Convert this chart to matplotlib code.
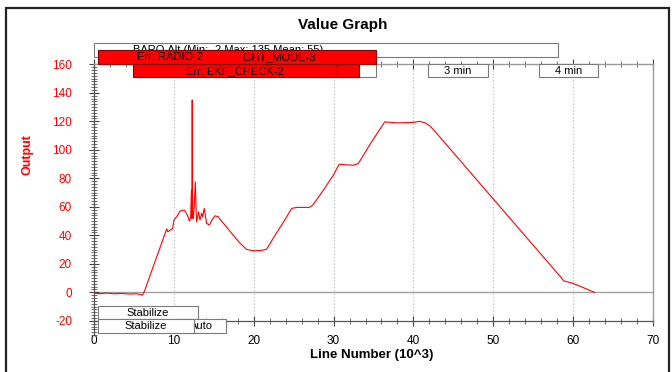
import matplotlib
matplotlib.use("Agg")
import matplotlib.pyplot as plt
from matplotlib.patches import Rectangle
from matplotlib.ticker import MultipleLocator, FixedLocator

plt.rcParams["font.family"] = ["Liberation Sans", "DejaVu Sans"]
plt.rcParams["axes.unicode_minus"] = False

# BARO altitude against log line number (thousands)
line_k = [0, 0.8, 1.5, 2.5, 3.5, 4.5, 5.3, 5.8, 6.05, 6.3,
          8.98, 9.1, 9.25, 9.68, 9.85, 10.0, 10.4, 10.77, 11.3, 11.7,
          11.95, 12.1, 12.2, 12.25, 12.3, 12.35, 12.43, 12.55, 12.69, 12.8,
          12.86, 13.1, 13.27, 13.48, 13.6, 13.8, 14.1, 14.44, 14.8, 15.15,
          15.56, 15.78, 16.5, 17.24, 18.2, 19.1, 19.95, 20.8, 21.6, 22.5,
          23.7, 24.75, 25.4, 26.96, 27.4, 28.7, 29.97, 30.7, 31.5, 32.5,
          33.1, 34.7, 36.4, 37.9, 39.98, 40.8, 41.5, 42.1, 43.0, 50.0,
          58.4, 58.8, 60.0, 62.5, 62.7]
output = [-0.5, -1.0, -0.5, -1.0, -0.8, -1.2, -1.0, -1.5, -2.0, 0.5,
          42.5, 44.5, 42.5, 44.2, 45.0, 50.5, 53.5, 57.0, 57.7, 54.2,
          50.0, 52.0, 71.7, 52.0, 135.0, 55.0, 51.8, 60.0, 77.5, 55.0,
          49.5, 56.5, 50.7, 55.4, 53.0, 58.9, 48.4, 47.2, 51.0, 53.7,
          53.0, 51.2, 46.5, 41.4, 35.0, 30.1, 29.2, 29.3, 30.1, 38.5,
          49.0, 58.9, 59.6, 59.6, 61.2, 71.5, 82.2, 89.9, 89.5, 89.2,
          90.4, 105.0, 119.6, 118.9, 119.2, 120.0, 118.8, 116.6, 111.0, 65.5,
          11.0, 8.1, 6.3, 0.4, 0.0]

x_ticks = [0, 10, 20, 30, 40, 50, 60, 70]
y_ticks = [-20, 0, 20, 40, 60, 80, 100, 120, 140, 160]

# event spans (line number, thousands)
minute_labels = ["2 min", "3 min", "4 min"]
minute_start = [27.9, 41.8, 55.7]
minute_end = [35.3, 49.3, 63.1]

mode_err_label = "Err: FLIGHT_MODE-3"
mode_err_span = (6.5, 35.3)
radio_err_label = "Err: RADIO-2"
radio_err_span = (0.5, 18.65)
ekf_err_label = "Err: EKF_CHECK-2"
ekf_err_spans = [(4.9, 30.4), (30.4, 33.2)]

baro_label = "BARO.Alt (Min: -2 Max: 135 Mean: 55)"
baro_span = (0.0, 58.1)

flight_modes_row1 = [("Stabilize", 0.5, 13.0)]
flight_modes_row2 = [("Auto", 10.5, 16.5), ("Stabilize", 0.5, 12.5)]

fig = plt.figure(figsize=(6.72, 3.72), dpi=100)
fig.patch.set_facecolor("white")

# outer frame
fig.patches.append(Rectangle((6 / 672, -0.1), (669 - 6) / 672, 1.1 - 8 / 372,
                             transform=fig.transFigure, fill=False,
                             edgecolor="#222222", lw=1.6))

ax = fig.add_axes([94 / 672, 1 - 335.1 / 372, (653 - 94) / 672, (335.1 - 64.3) / 372])
ax.set_facecolor("white")

ax.plot(line_k, output, color="#ff0000", lw=0.8, zorder=3)

ax.set_xlim(0, 70)
ax.set_ylim(-30, 160)

ax.axhline(0, color="#a0a0a0", lw=1.0, zorder=1)
ax.vlines(x_ticks[1:-1], -20, 160, colors="#b5b5b5", linestyles=(0, (1, 2)), lw=0.8, zorder=0)

for side in ("left", "bottom"):
    ax.spines[side].set_color("#555555")
    ax.spines[side].set_linewidth(0.9)
for side in ("top", "right"):
    ax.spines[side].set_color("#9a9a9a")
    ax.spines[side].set_linewidth(1.0)
ax.spines["bottom"].set_position(("data", -20))
ax.spines["right"].set_bounds(-21, 160)

ax.xaxis.set_major_locator(FixedLocator(x_ticks))
ax.xaxis.set_minor_locator(MultipleLocator(2))
ax.yaxis.set_major_locator(FixedLocator(y_ticks))
ax.yaxis.set_minor_locator(MultipleLocator(2))
ax.tick_params(which="major", direction="inout", length=7, width=0.8, color="#444444")
ax.tick_params(which="minor", direction="inout", length=4, width=0.6, color="#555555")
ax.tick_params(axis="x", which="both", top=True, labeltop=False)
ax.tick_params(axis="x", which="major", pad=6.5, labelsize=8.5, labelcolor="black")
ax.tick_params(axis="y", which="major", pad=12.3, labelsize=8.5, labelcolor="#ff0000")
ax.tick_params(axis="y", which="both", right=False)

fig.text(342.5 / 672, 1 - 25 / 372, "Value Graph", ha="center", va="center",
         fontsize=11, fontweight="bold", color="black")
fig.text(372 / 672, 1 - 355 / 372, "Line Number (10^3)", ha="center", va="center",
         fontsize=9.5, fontweight="bold", color="black")
fig.text(27 / 672, 1 - 155 / 372, "Output", ha="center", va="center", rotation=90,
         fontsize=9, fontweight="bold", color="#ff0000")


def event_box(x0, x1, y0, y1, label, face, edge, z, text_x=None, ha="center"):
    ax.add_patch(Rectangle((x0, y0), x1 - x0, y1 - y0, facecolor=face, edgecolor=edge,
                           lw=0.8, zorder=z, clip_on=False))
    if label:
        tx = (x0 + x1) / 2 if text_x is None else text_x
        ax.text(tx, (y0 + y1) / 2, label, ha=ha, va="center", fontsize=8,
                color="black", zorder=z + 0.1, clip_on=False)


# upper event rows
event_box(baro_span[0], baro_span[1], 164.9, 174.7, baro_label, "white", "#7a7a7a", 4,
          text_x=4.9, ha="left")
for lab, s, e in zip(minute_labels, minute_start, minute_end):
    event_box(s, e, 150.9, 160.0, lab, "white", "#7a7a7a", 5)
for s, e in ekf_err_spans:
    event_box(s, e, 150.9, 160.0, None, "#ff0000", "#8a0000", 6)
ax.text((ekf_err_spans[0][0] + ekf_err_spans[0][1]) / 2, 155.45, ekf_err_label,
        ha="center", va="center", fontsize=8, color="black", zorder=6.2, clip_on=False)
event_box(mode_err_span[0], mode_err_span[1], 160.0, 169.8, mode_err_label,
          "#ff0000", "#8a0000", 7)
event_box(radio_err_span[0], radio_err_span[1], 160.0, 169.8, radio_err_label,
          "#ff0000", "#8a0000", 8)

# flight mode rows below the axis
for lab, s, e in flight_modes_row1:
    event_box(s, e, -18.7, -9.6, lab, "white", "#7a7a7a", 5)
for i, (lab, s, e) in enumerate(flight_modes_row2):
    event_box(s, e, -28.5, -18.7, lab, "white", "#7a7a7a", 5 + i)

fig.savefig("out.png", dpi=100)
